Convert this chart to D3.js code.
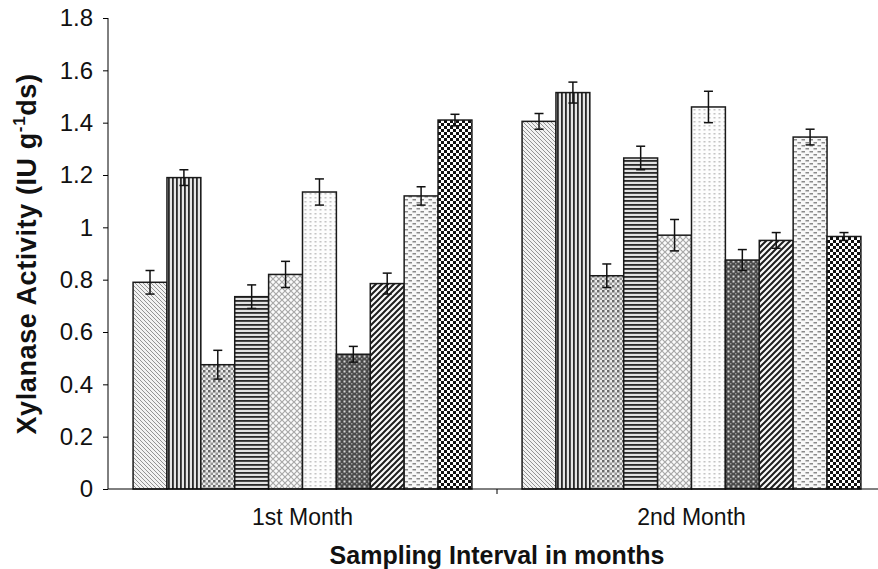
<!DOCTYPE html>
<html>
<head>
<meta charset="utf-8">
<script src="https://cdn.jsdelivr.net/npm/d3@7"></script>
<style>
  body { margin: 0; background: #fff; }
  svg { display: block; font-family: "Liberation Sans", Arial, sans-serif; }
</style>
</head>
<body>
<svg id="chart" width="878" height="569"></svg>
<script>
// Sampling intervals and the ten treatments (each drawn with its own fill pattern)
const categories = ["1st Month", "2nd Month"];
const treatments = ["T1", "T2", "T3", "T4", "T5", "T6", "T7", "T8", "T9", "T10"];
// Xylanase activity (IU g-1 ds) per treatment
const month1Values = [0.79, 1.19, 0.475, 0.735, 0.82, 1.135, 0.515, 0.785, 1.12, 1.41];
const month2Values = [1.405, 1.515, 0.815, 1.265, 0.97, 1.46, 0.875, 0.95, 1.345, 0.965];
// Standard-error half widths
const month1Errors = [0.045, 0.03, 0.055, 0.045, 0.05, 0.05, 0.03, 0.04, 0.035, 0.022];
const month2Errors = [0.03, 0.04, 0.045, 0.045, 0.06, 0.06, 0.04, 0.03, 0.03, 0.015];
const yTicks = [0, 0.2, 0.4, 0.6, 0.8, 1, 1.2, 1.4, 1.6, 1.8];

const valuesByCategory = [month1Values, month2Values];
const errorsByCategory = [month1Errors, month2Errors];

const svg = d3.select("#chart");
const margin = { left: 108, top: 18, bottom: 489, right: 886 };

const x0 = d3.scaleBand().domain(categories).range([margin.left, margin.right]).padding(0);
const x1 = d3.scaleBand().domain(treatments).range([0, x0.bandwidth()])
  .paddingInner(0).paddingOuter(0.74);
const y = d3.scaleLinear().domain([0, 1.8]).range([margin.bottom, margin.top]);

// ---- fill patterns ----
const defs = svg.append("defs");
function pat(id, w, h, draw) {
  const p = defs.append("pattern").attr("id", id)
    .attr("patternUnits", "userSpaceOnUse").attr("width", w).attr("height", h);
  draw(p);
}
// 1: fine light-grey back-diagonal hatch
pat("p0", 4, 4, p => {
  p.append("rect").attr("width", 4).attr("height", 4).attr("fill", "#f2f2f2");
  p.append("path").attr("d", "M-1,-1 L5,5 M-1,3 L1,5 M3,-1 L5,1").attr("stroke", "#939393").attr("stroke-width", 1);
});
// 2: vertical stripes
pat("p1", 4, 4, p => {
  p.append("rect").attr("width", 4).attr("height", 4).attr("fill", "#e6e6e6");
  p.append("rect").attr("x", 0).attr("width", 1.8).attr("height", 4).attr("fill", "#2a2a2a");
});
// 3: grey dotted grid
pat("p2", 5, 5, p => {
  p.append("rect").attr("width", 5).attr("height", 5).attr("fill", "#ececec");
  p.append("rect").attr("x", 0).attr("y", 0).attr("width", 2.5).attr("height", 2.5).attr("fill", "#6a6a6a");
  p.append("rect").attr("x", 2.5).attr("y", 2.5).attr("width", 2.5).attr("height", 2.5).attr("fill", "#959595");
});
// 4: horizontal stripes
pat("p3", 4, 4, p => {
  p.append("rect").attr("width", 4).attr("height", 4).attr("fill", "#e2e2e2");
  p.append("rect").attr("y", 0).attr("width", 4).attr("height", 1.8).attr("fill", "#2a2a2a");
});
// 5: light diamond cross-hatch
pat("p4", 6, 6, p => {
  p.append("rect").attr("width", 6).attr("height", 6).attr("fill", "#fbfbfb");
  p.append("path").attr("d", "M0,0 L6,6 M6,0 L0,6").attr("stroke", "#a8a8a8").attr("stroke-width", 1.2);
});
// 6: sparse light dots
pat("p5", 5, 4, p => {
  p.append("rect").attr("width", 5).attr("height", 4).attr("fill", "#fdfdfd");
  p.append("rect").attr("x", 1.5).attr("y", 1).attr("width", 2).attr("height", 1.5).attr("fill", "#c4c4c4");
});
// 7: dark weave with light dots
pat("p6", 5, 5, p => {
  p.append("rect").attr("width", 5).attr("height", 5).attr("fill", "#4a4a4a");
  p.append("rect").attr("x", 0.5).attr("y", 0.5).attr("width", 2).attr("height", 2).attr("fill", "#d8d8d8");
  p.append("rect").attr("x", 3).attr("y", 3).attr("width", 1.5).attr("height", 1.5).attr("fill", "#9a9a9a");
});
// 8: bold forward diagonals
pat("p7", 6, 6, p => {
  p.append("rect").attr("width", 6).attr("height", 6).attr("fill", "#fafafa");
  p.append("path").attr("d", "M-1,7 L7,-1 M-1,1 L1,-1 M5,7 L7,5").attr("stroke", "#1e1e1e").attr("stroke-width", 2);
});
// 9: staggered horizontal dashes
pat("p8", 8, 6, p => {
  p.append("rect").attr("width", 8).attr("height", 6).attr("fill", "#f8f8f8");
  p.append("rect").attr("x", 0.5).attr("y", 1).attr("width", 3.5).attr("height", 1.5).attr("fill", "#8a8a8a");
  p.append("rect").attr("x", 4.5).attr("y", 4).attr("width", 3.5).attr("height", 1.5).attr("fill", "#8a8a8a");
});
// 10: black and white checkerboard
pat("p9", 6, 6, p => {
  p.append("rect").attr("width", 6).attr("height", 6).attr("fill", "#fff");
  p.append("rect").attr("x", 0).attr("y", 0).attr("width", 3).attr("height", 3).attr("fill", "#111");
  p.append("rect").attr("x", 3).attr("y", 3).attr("width", 3).attr("height", 3).attr("fill", "#111");
});

// ---- bars ----
const groups = svg.append("g").selectAll("g").data(categories).join("g")
  .attr("transform", d => `translate(${x0(d)},0)`);

groups.each(function (cat, ci) {
  const g = d3.select(this);
  const rows = treatments.map((t, i) => ({ t, i, v: valuesByCategory[ci][i], e: errorsByCategory[ci][i] }));
  g.selectAll("rect.bar").data(rows).join("rect").attr("class", "bar")
    .attr("x", d => x1(d.t))
    .attr("y", d => y(d.v))
    .attr("width", x1.bandwidth())
    .attr("height", d => y(0) - y(d.v))
    .attr("fill", d => `url(#p${d.i})`)
    .attr("stroke", "#1a1a1a").attr("stroke-width", 1.5);

  const eb = g.selectAll("g.err").data(rows).join("g").attr("class", "err")
    .attr("stroke", "#111").attr("stroke-width", 1.5);
  const cx = d => x1(d.t) + x1.bandwidth() / 2;
  eb.append("line")
    .attr("x1", cx).attr("x2", cx)
    .attr("y1", d => y(d.v + d.e)).attr("y2", d => y(d.v - d.e));
  eb.append("line")
    .attr("x1", d => cx(d) - 4.5).attr("x2", d => cx(d) + 4.5)
    .attr("y1", d => y(d.v + d.e)).attr("y2", d => y(d.v + d.e));
  eb.append("line")
    .attr("x1", d => cx(d) - 4.5).attr("x2", d => cx(d) + 4.5)
    .attr("y1", d => y(d.v - d.e)).attr("y2", d => y(d.v - d.e));
});

// ---- axes ----
const yAxis = svg.append("g").attr("transform", `translate(${margin.left},0)`)
  .call(d3.axisLeft(y).tickValues(yTicks).tickSize(5).tickPadding(10).tickFormat(d => d3.format("")(d)));
yAxis.select(".domain").attr("d", `M0,${margin.top}V${margin.bottom}`);
yAxis.selectAll(".tick text").attr("font-size", 24).attr("fill", "#111")
  .attr("font-family", "'Liberation Sans', Arial, sans-serif");
svg.selectAll(".tick line").attr("stroke", "#000");
svg.selectAll(".domain").attr("stroke", "#000");

const xAxis = svg.append("g").attr("transform", `translate(0,${margin.bottom})`);
xAxis.append("line").attr("x1", margin.left).attr("x2", margin.right)
  .attr("stroke", "#000").attr("stroke-width", 1);
// tick marks at category boundaries
xAxis.selectAll("line.tk").data(categories.slice(1)).join("line").attr("class", "tk")
  .attr("x1", d => x0(d)).attr("x2", d => x0(d)).attr("y1", 0).attr("y2", 5)
  .attr("stroke", "#000");
xAxis.selectAll("text").data(categories).join("text")
  .attr("x", d => x0(d) + x0.bandwidth() / 2)
  .attr("y", 36)
  .attr("text-anchor", "middle")
  .attr("font-size", 23).attr("fill", "#111")
  .text(d => d);

// axis titles
svg.append("text")
  .attr("x", 497).attr("y", 564)
  .attr("text-anchor", "middle").attr("font-weight", "bold").attr("font-size", 25).attr("fill", "#111")
  .text("Sampling Interval in months");

const yt = svg.append("text")
  .attr("transform", `translate(36,254) rotate(-90)`)
  .attr("text-anchor", "middle").attr("font-weight", "bold").attr("font-size", 27)
  .attr("letter-spacing", 0.6).attr("fill", "#111");
yt.append("tspan").text("Xylanase Activity (IU g");
yt.append("tspan").attr("dy", -11).attr("font-size", 17).text("-1");
yt.append("tspan").attr("dy", 11).text("ds)");
</script>
</body>
</html>
